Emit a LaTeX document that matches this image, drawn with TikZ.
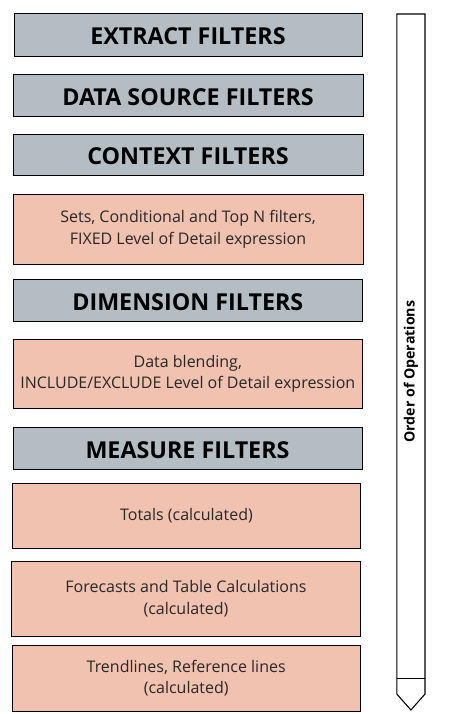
\documentclass[tikz,border=0pt]{standalone}
\usepackage{fontspec}
\setmainfont{Open Sans}
\definecolor{grayfill}{RGB}{179,189,195}
\definecolor{salmon}{RGB}{241,194,175}
\definecolor{bodytext}{RGB}{40,40,40}
\newcommand{\headlow}[1]{\raisebox{-1.5pt}[\height][\depth]{#1}}
\begin{document}
\begin{tikzpicture}[x=1pt,y=-1pt,
  box/.style={draw=black,line width=0.9pt,inner sep=0pt,align=center,anchor=center},
  headbox/.style={box,fill=grayfill,font=\fontsize{23.3}{26}\selectfont\bfseries},
  notebox/.style={box,fill=salmon,text=bodytext,font=\fontsize{16}{21.7}\selectfont}]
\useasboundingbox (0,0) rectangle (456,714);
\fill[white] (0,0) rectangle (456,714);
\node[headbox,minimum width=348pt,minimum height=43.4pt] (extract) at (188,35) {\headlow{EXTRACT FILTERS}};
\node[headbox,minimum width=350pt,minimum height=42pt] (datasource) at (188,95.3) {\headlow{DATA SOURCE FILTERS}};
\node[headbox,minimum width=350pt,minimum height=40.6pt] (context) at (188,155) {\headlow{CONTEXT FILTERS}};
\node[notebox,minimum width=350pt,minimum height=69.6pt] (sets) at (188,229.5) {Sets, Conditional and Top N filters,\\FIXED Level of Detail expression};
\node[headbox,minimum width=349.7pt,minimum height=42.4pt] (dimension) at (187.8,300.5) {\headlow{DIMENSION FILTERS}};
\node[notebox,minimum width=349.7pt,minimum height=69pt] (blend) at (187.8,373.8) {Data blending,\\INCLUDE/EXCLUDE Level of Detail expression};
\node[headbox,minimum width=349pt,minimum height=42pt] (measure) at (187.5,448.3) {\headlow{MEASURE FILTERS}};
\node[notebox,minimum width=348.4pt,minimum height=65pt] (totals) at (186.5,515.8) {Totals (calculated)};
\node[notebox,minimum width=349.4pt,minimum height=75pt] (forecast) at (186,598.8) {Forecasts and Table Calculations\\(calculated)};
\node[notebox,minimum width=347.7pt,minimum height=65.7pt] (trend) at (186.2,678.2) {Trendlines, Reference lines\\(calculated)};
% order of operations arrow
\coordinate (atl) at (396.8,14);
\coordinate (atr) at (425,14);
\coordinate (abr) at (425,694);
\coordinate (abl) at (396.8,694);
\coordinate (atip) at (410.9,710);
\coordinate (ml) at (396.8,678.3);
\coordinate (mr) at (425,678.3);
\draw[line width=1.1pt,line join=miter] (atl) -- (atr) -- (abr) -- (atip) -- (abl) -- cycle;
\draw[line width=1.1pt] (ml) -- (mr);
\node[rotate=90,font=\fontsize{14.2}{16}\selectfont\bfseries,inner sep=0pt] (order) at (411,371.7) {Order of Operations};
\end{tikzpicture}
\end{document}
